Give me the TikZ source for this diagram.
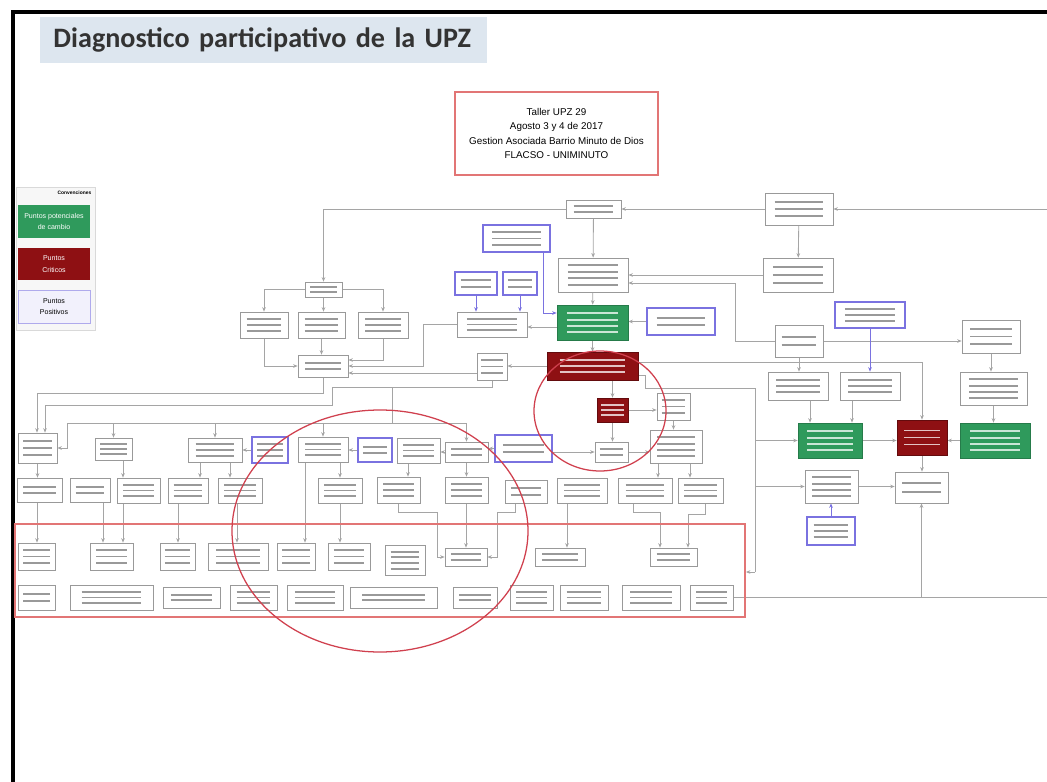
\documentclass[tikz,border=0pt]{standalone}
\usepackage{fontspec}
\setmainfont{Liberation Sans}
\newfontfamily\titlefont{Carlito}
\usepackage{tikz}
\usetikzlibrary{calc,fit}
\usetikzlibrary{arrows.meta,positioning}

\definecolor{potgreen}{HTML}{2F9A5C}
\definecolor{critred}{HTML}{8E1013}
\definecolor{posblue}{HTML}{7A72E0}
\definecolor{linegray}{HTML}{A5A5A5}
\definecolor{framered}{HTML}{E27575}
\definecolor{circred}{HTML}{D0404E}
\definecolor{titlebg}{HTML}{DDE6EF}

\pgfdeclarelayer{bg}
\pgfsetlayers{bg,main}

% blurred text lines inside a box
\newcommand{\txtlines}[2]{%
  \foreach \fr in {#1}{%
    \draw[#2, line width=1.4pt]
      ($($(path picture bounding box.north west)!\fr!(path picture bounding box.south west)$)!0.14!($(path picture bounding box.north east)!\fr!(path picture bounding box.south east)$)$)
      -- ($($(path picture bounding box.north east)!\fr!(path picture bounding box.south east)$)!0.14!($(path picture bounding box.north west)!\fr!(path picture bounding box.south west)$)$);}}

\begin{document}
\begin{tikzpicture}[x=0.025cm, y=-0.025cm, >={Stealth[length=3.2pt,width=2.6pt]}]
  \tikzstyle{box}=[draw=black!40, fill=white, inner sep=0pt, line width=0.5pt]
  \tikzstyle{two}=[path picture={\txtlines{0.36,0.64}{black!40}}]
  \tikzstyle{three}=[path picture={\txtlines{0.27,0.5,0.73}{black!40}}]
  \tikzstyle{four}=[path picture={\txtlines{0.22,0.41,0.6,0.79}{black!40}}]
  \tikzstyle{posbox}=[box, draw=posblue, line width=0.8pt]
  \tikzstyle{critbox}=[box, fill=critred, draw=critred!70!black, path picture={\txtlines{0.3,0.5,0.7}{white!75!critred}}]
  \tikzstyle{potbox}=[box, fill=potgreen, draw=potgreen!80!black, path picture={\txtlines{0.24,0.42,0.6,0.78}{white!75!potgreen}}]
  \tikzstyle{conn}=[draw=linegray, line width=0.6pt]
  \tikzstyle{pconn}=[draw=posblue, line width=0.6pt]

  \useasboundingbox (0,0) rectangle (1047,782);
  \draw[line width=2.8pt] (13,782) -- (13,12) -- (1047,12);

  % title and header
  \node[fill=titlebg, anchor=north west, minimum height=1.15cm, text width=10.5cm,
        inner xsep=0.33cm, align=left, text=black!80,
        font=\titlefont\bfseries\fontsize{20}{22}\selectfont] (title) at (40,17)
        {Diagnostico participativo de la UPZ};
  \node[draw=framered, line width=0.8pt, minimum width=5.075cm, minimum height=2.075cm,
        align=center, font=\fontsize{7}{10}\selectfont] (hdr) at (556.5,133.5)
        {Taller UPZ 29\\Agosto 3 y 4 de 2017\\Gestion Asociada Barrio Minuto de Dios\\FLACSO - UNIMINUTO};

  % legend
  \node[draw=black!15, fill=black!3, fit={(16,187) (95,330)}, inner sep=0pt] (leg) {};
  \node[anchor=north east, font=\bfseries\fontsize{3.5}{4}\selectfont, inner sep=1pt] (legtitle) at (93,189) {Convenciones};
  \node[fill=potgreen, minimum width=1.8cm, minimum height=0.825cm, align=center, text=white,
        font=\fontsize{5}{8}\selectfont] (legpot) at (54,221.5) {Puntos potenciales\\de cambio};
  \node[fill=critred, minimum width=1.8cm, minimum height=0.8cm, align=center, text=white,
        font=\fontsize{5}{8}\selectfont] (legcrit) at (54,264) {Puntos\\Criticos};
  \node[fill=posblue!10, draw=posblue!60, minimum width=1.8cm, minimum height=0.825cm, align=center,
        font=\fontsize{5}{8}\selectfont] (legpos) at (54,306.5) {Puntos\\Positivos};

  % upper part
  \node[box, two, fit={(305,282) (342,297)}] (P) {};
  \node[box, three, fit={(240,312) (288,338)}] (A) {};
  \node[box, three, fit={(298,312) (345,338)}] (B) {};
  \node[box, three, fit={(358,312) (408,338)}] (C) {};
  \node[box, two, fit={(298,355) (348,377)}] (D) {};
  \node[posbox, two, fit={(455,272) (497,295)}] (F) {};
  \node[posbox, two, fit={(503,272) (537,295)}] (G) {};
  \node[posbox, three, fit={(483,225) (550,252)}] (H) {};
  \node[box, three, fit={(457,312) (527,337)}] (E) {};
  \node[box, three, fit={(477,353) (507,380)}] (I) {};
  \node[box, two, fit={(566,200) (621,218)}] (T1) {};
  \node[box, three, fit={(765,193) (833,225)}] (T2) {};
  \node[box, three, fit={(763,258) (833,292)}] (T3) {};
  \node[box, four, fit={(558,258) (628,292)}] (T4) {};
  \node[potbox, fit={(557,305) (628,340)}] (G1) {};
  \node[posbox, two, fit={(647,308) (715,335)}] (B2) {};
  \node[critbox, fit={(547,352) (638,380)}] (R1) {};
  \node[critbox, fit={(597,398) (628,422)}] (R2) {};
  \node[box, three, fit={(657,393) (690,420)}] (AU) {};
  \node[posbox, three, fit={(835,302) (905,328)}] (B3) {};
  \node[box, two, fit={(775,325) (823,357)}] (ML) {};
  \node[box, three, fit={(962,320) (1020,353)}] (RB1) {};
  \node[box, three, fit={(768,372) (828,400)}] (M1) {};
  \node[box, three, fit={(840,372) (900,400)}] (M2) {};
  \node[box, four, fit={(960,372) (1027,405)}] (RB2) {};
  \node[potbox, fit={(798,423) (862,458)}] (G2) {};
  \node[critbox, fit={(897,420) (947,455)}] (R3) {};
  \node[potbox, fit={(960,423) (1030,458)}] (G3) {};
  \node[box, four, fit={(805,470) (858,503)}] (SE) {};
  \node[posbox, three, fit={(807,517) (855,545)}] (B4) {};
  \node[box, two, fit={(895,472) (948,503)}] (R3B) {};

  % row 1
  \node[box, three, fit={(18,433) (57,463)}] (r1a) {};
  \node[box, three, fit={(95,438) (132,460)}] (r1b) {};
  \node[box, three, fit={(188,438) (242,462)}] (r1c) {};
  \node[posbox, three, fit={(252,437) (288,463)}] (r1d) {};
  \node[box, three, fit={(298,437) (348,462)}] (r1e) {};
  \node[posbox, two, fit={(358,438) (392,462)}] (r1f) {};
  \node[box, three, fit={(397,438) (440,463)}] (r1g) {};
  \node[box, two, fit={(445,442) (488,462)}] (r1h) {};
  \node[posbox, two, fit={(495,435) (552,462)}] (r1i) {};
  \node[box, two, fit={(595,442) (628,462)}] (r1j) {};
  \node[box, four, fit={(650,430) (702,463)}] (r1k) {};

  % row 2
  \node[box, two, fit={(17,478) (62,502)}] (r2a) {};
  \node[box, two, fit={(70,478) (110,502)}] (r2b) {};
  \node[box, three, fit={(117,478) (160,503)}] (r2c) {};
  \node[box, three, fit={(168,478) (208,503)}] (r2d) {};
  \node[box, three, fit={(218,478) (262,503)}] (r2e) {};
  \node[box, three, fit={(318,478) (362,503)}] (r2f) {};
  \node[box, three, fit={(377,477) (420,503)}] (r2g) {};
  \node[box, three, fit={(445,477) (488,503)}] (r2h) {};
  \node[box, two, fit={(505,480) (547,503)}] (r2i) {};
  \node[box, three, fit={(557,478) (607,503)}] (r2j) {};
  \node[box, three, fit={(618,478) (672,503)}] (r2k) {};
  \node[box, three, fit={(678,478) (723,503)}] (r2l) {};

  % red band with rows 3 and 4
  \node[draw=framered, line width=1.3pt, fit={(15,524) (745,617)}, inner sep=0pt] (band) {};
  \node[box, three, fit={(18,543) (55,570)}] (r3a) {};
  \node[box, three, fit={(90,543) (133,570)}] (r3b) {};
  \node[box, three, fit={(160,543) (195,570)}] (r3c) {};
  \node[box, three, fit={(208,543) (268,570)}] (r3d) {};
  \node[box, three, fit={(277,543) (315,570)}] (r3e) {};
  \node[box, three, fit={(328,543) (370,570)}] (r3f) {};
  \node[box, four, fit={(385,545) (425,575)}] (r3g) {};
  \node[box, two, fit={(445,548) (487,566)}] (r3h) {};
  \node[box, two, fit={(535,548) (585,566)}] (r3i) {};
  \node[box, two, fit={(650,548) (697,566)}] (r3j) {};

  \node[box, two, fit={(18,585) (55,610)}] (r4a) {};
  \node[box, three, fit={(70,585) (153,610)}] (r4b) {};
  \node[box, two, fit={(163,587) (220,608)}] (r4c) {};
  \node[box, three, fit={(230,585) (277,610)}] (r4d) {};
  \node[box, three, fit={(287,585) (343,610)}] (r4e) {};
  \node[box, two, fit={(350,587) (437,608)}] (r4f) {};
  \node[box, two, fit={(453,587) (497,608)}] (r4g) {};
  \node[box, three, fit={(510,585) (553,610)}] (r4h) {};
  \node[box, three, fit={(560,585) (608,610)}] (r4i) {};
  \node[box, three, fit={(622,585) (680,610)}] (r4j) {};
  \node[box, three, fit={(690,585) (733,610)}] (r4k) {};

  \coordinate (edgeR) at (1047,209);
  \coordinate (edgeB) at (1047,597);
  \coordinate (vtop) at (755,388);
  \coordinate (busL) at (67,423);
  \coordinate (busR) at (466.5,423);

  \begin{pgfonlayer}{bg}
    % upper part
    \draw[conn,->] (edgeR) -- (T2.east |- edgeR);
    \draw[conn,->] (T2.west) -- (T1.east);
    \draw[conn,->] (T1.west) -| (P.north);
    \draw[conn,->] (T2) -- (T3);
    \draw[conn,->] (T1) -- (T4);
    \draw[conn,->] (T3.west) -- (T4.east |- T3.west);
    \draw[conn,->] (ML.west) -- (735,0 |- ML.west) |- ($(T4.east)+(0,8)$);
    \draw[conn,->] (ML.east) -- (RB1.west |- ML.east);
    \draw[conn,->] (T4) -- (G1);
    \draw[conn,->] (B2.west) -- (G1.east |- B2.west);
    \draw[conn,->] (G1) -- (R1);
    \draw[pconn,->] (543,0 |- H.south) |- (G1.west |- 0,313);
    \draw[conn,->] (G1.west |- 0,327) -- (E.east |- 0,327);
    \draw[pconn,->] (F.south) -- (F.south |- E.north);
    \draw[pconn,->] (G.south) -- (G.south |- E.north);
    \draw[conn,->] (P.west) -| (A.north);
    \draw[conn,->] (P.east) -| (C.north);
    \draw[conn,->] (P.south) -- (P.south |- B.north);
    \draw[conn,->] (B.south) -- (B.south |- D.north);
    \draw[conn,->] (A.south) |- (D.west);
    \draw[conn,->] (C.south) |- ($(D.east)+(0,-6)$);
    \draw[conn,->] (E.west) -- (423,0 |- E.west) |- (D.east);
    \draw[conn,->] (I.west |- 0,373) -- (D.east |- 0,373);
    \draw[conn,->] (R1.west) -- (I.east |- R1.west);
    \draw[conn,->] (D.south) |- (37,393) -- (37,0 |- r1a.north);
    \draw[conn,->] (I.south) |- (332,387) |- (45,405) -- (45,0 |- r1a.north);
    \draw[conn] (392,387) -- (392,423);
    \draw[conn] (busL) -- (busR);
    \draw[conn,->] (busL) |- (r1a.east);
    \draw[conn,->] (busL -| r1b.north) -- (r1b.north);
    \draw[conn,->] (busL -| r1c.north) -- (r1c.north);
    \draw[conn,->] (busL -| r1e.north) -- (r1e.north);
    \draw[conn,->] (busR) -- (busR |- r1h.north);
    % critical points
    \draw[conn,->] (R1.south -| R2.north) -- (R2.north);
    \draw[conn,->] (R2.east) -- (AU.west |- R2.east);
    \draw[conn,->] (AU.south) -- (AU.south |- r1k.north);
    \draw[conn,->] (R2.south) -- (R2.south |- r1j.north);
    \draw[conn,->] (R1.east |- 0,362) -| (R3.north);
    \draw[conn] ($(R1.east)+(0,9)$) -| (645,388) -- (vtop);
    \draw[conn] (vtop) -- (755,572);
    \draw[conn,->] (755,0 |- G2.west) -- (G2.west);
    \draw[conn,->] (755,0 |- SE.west) -- (SE.west);
    \draw[conn,->] (755,572) -- (band.east |- 0,572);
    \draw[conn,->] (ML.south) -- (ML.south |- M1.north);
    \draw[pconn,->] (B3.south) -- (B3.south |- M2.north);
    \draw[conn,->] (810,0 |- M1.south) -- (810,0 |- G2.north);
    \draw[conn,->] (852,0 |- M2.south) -- (852,0 |- G2.north);
    \draw[conn,->] (RB1.south) -- (RB1.south |- RB2.north);
    \draw[conn,->] (RB2.south) -- (RB2.south |- G3.north);
    \draw[conn,->] (G2.east) -- (R3.west |- G2.east);
    \draw[conn,->] (G3.west) -- (R3.east |- G3.west);
    \draw[conn,->] (R3.south) -- (R3.south |- R3B.north);
    \draw[conn,->] (SE.east) -- (R3B.west |- SE.east);
    \draw[pconn,->] (B4.north) -- (B4.north |- SE.south);
    \draw[conn] (r4k.east |- edgeB) -- (edgeB);
    \draw[conn,->] (R3B.south |- edgeB) -- (R3B.south);
    % row 1
    \draw[conn,->] (r1d.west) -- (r1c.east |- r1d.west);
    \draw[conn,->] (r1f.west) -- (r1e.east |- r1f.west);
    \draw[conn,->] (r1h.west) -- (r1g.east |- r1h.west);
    \draw[conn,->] (r1i.west) -- (r1h.east |- r1i.west);
    \draw[conn,->] (r1i.east |- r1j.west) -- (r1j.west);
    \draw[conn,->] (r1j.east) -- (r1k.west |- r1j.east);
    % row 1 to row 2
    \draw[conn,->] (r1a.south) -- (r1a.south |- r2a.north);
    \draw[conn,->] (123,0 |- r1b.south) -- (123,0 |- r2c.north);
    \draw[conn,->] (200,0 |- r1c.south) -- (200,0 |- r2d.north);
    \draw[conn,->] (230,0 |- r1c.south) -- (230,0 |- r2e.north);
    \draw[conn,->] (340,0 |- r1e.south) -- (340,0 |- r2f.north);
    \draw[conn,->] (305,0 |- r1e.south) -- (305,0 |- r3e.north);
    \draw[conn,->] (408,0 |- r1g.south) -- (408,0 |- r2g.north);
    \draw[conn,->] (r1h.south) -- (r1h.south |- r2h.north);
    \draw[conn,->] (658,0 |- r1k.south) -- (658,0 |- r2k.north);
    \draw[conn,->] (690,0 |- r1k.south) -- (690,0 |- r2l.north);
    % row 2 to row 3
    \draw[conn,->] (37,0 |- r2a.south) -- (37,0 |- r3a.north);
    \draw[conn,->] (103,0 |- r2b.south) -- (103,0 |- r3b.north);
    \draw[conn,->] (123,0 |- r2c.south) -- (123,0 |- r3b.north);
    \draw[conn,->] (178,0 |- r2d.south) -- (178,0 |- r3c.north);
    \draw[conn,->] (237,0 |- r2e.south) -- (237,0 |- r3d.north);
    \draw[conn,->] (340,0 |- r2f.south) -- (340,0 |- r3f.north);
    \draw[conn,->] (398,0 |- r2g.south) |- (437,512) |- (r3h.west);
    \draw[conn,->] (515,0 |- r2i.south) |- (497,512) |- (r3h.east);
    \draw[conn,->] (466,0 |- r2h.south) -- (466,0 |- r3h.north);
    \draw[conn,->] (567,0 |- r2j.south) -- (567,0 |- r3i.north);
    \draw[conn,->] (633,0 |- r2k.south) |- (660,512) -- (660,0 |- r3j.north);
    \draw[conn,->] (705,0 |- r2l.south) |- (688,514) -- (688,0 |- r3j.north);
  \end{pgfonlayer}

  % marked areas
  \draw[circred, line width=0.9pt] (380,531) ellipse [x radius=148, y radius=121];
  \draw[circred, line width=0.9pt] (600,411) ellipse [x radius=66, y radius=60];
\end{tikzpicture}
\end{document}
